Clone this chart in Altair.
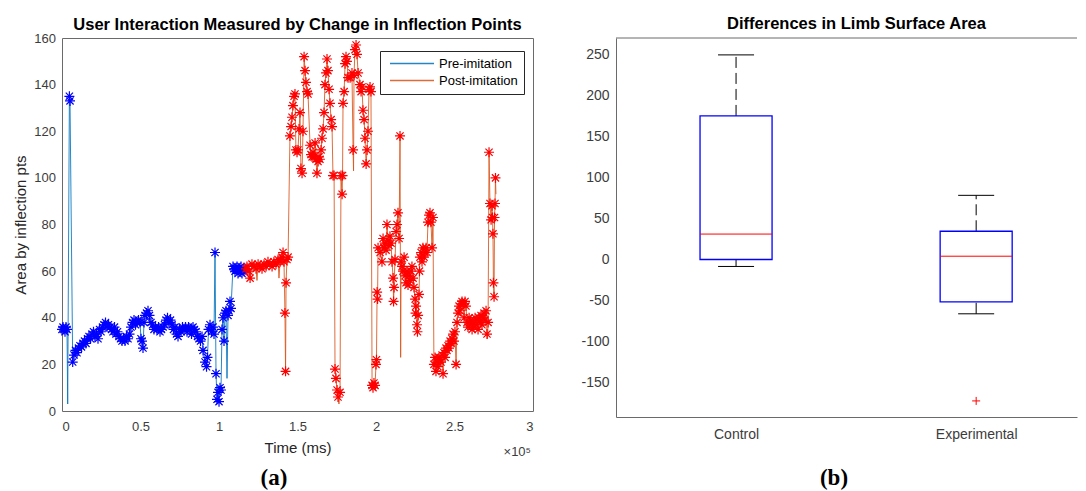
import json
import altair as alt
import pandas as pd

FONT = "Liberation Sans"
SERIF = "Liberation Serif"

# ---------------- panel (a) data ----------------
series_names = ["Pre-imitation", "Post-imitation"]
line_colors = ["#0072BD", "#D95319"]
marker_colors = ["#0000FF", "#FF0000"]

# Pre-imitation: time (ms) and area at inflection points (marked samples)
pre_t = [0, 637, 1274, 1911, 2548, 3185, 4700, 5100, 6816, 7644, 8600, 9555, 10511, 11466,
         12422, 13377, 14333, 15288, 16244, 17199, 18155, 19110, 20066, 21021, 21977, 22932,
         23888, 24843, 25799, 26754, 27710, 28665, 29621, 30576, 31532, 32487, 33443, 34398,
         35354, 36309, 37265, 38220, 39176, 40131, 41087, 42042, 42998, 43953, 44909, 45864,
         46820, 47775, 48731, 49686, 50323, 50960, 51597, 52234, 52871, 53827, 54782, 55738,
         56693, 57649, 58604, 59560, 60515, 61471, 62426, 63382, 64337, 65293, 66248, 67204,
         68159, 69115, 70070, 71026, 71981, 72937, 73892, 74848, 75803, 76759, 77714, 78670,
         79625, 80581, 81536, 82492, 83447, 84403, 85358, 86314, 87269, 88225, 89180, 89817,
         91091, 92047, 92684, 93321, 94276, 95232, 96187, 96824, 97461, 98098, 98735, 99372,
         100009, 100646, 101283, 101920, 102557, 103194, 103831, 104468, 105742, 106379,
         107016, 107653, 108927, 109564, 110201, 110838, 111475, 112112, 112749, 113386,
         114023, 114660, 115297, 115934, 116571]
pre_y = [35, 36, 35, 34, 36, 35, 135, 133, 21, 24, 26, 25, 27, 28,
         27.5, 29, 30, 29, 31, 32, 31, 33, 34, 32, 33, 31,
         35, 34, 36, 37, 38, 36, 37, 36, 35, 34, 36, 33,
         34, 32, 31, 30, 31, 30, 32, 31, 33, 36, 38, 39,
         37, 38, 39, 38, 31, 30, 27, 38, 41, 42, 43, 41,
         38, 37, 35, 36, 35, 36, 34, 35, 36, 37, 39, 40,
         38, 39, 37, 35, 36, 33, 32, 35, 34, 36, 35, 36,
         34, 36, 35, 33, 36, 35, 34, 32, 31, 30, 32, 26,
         21, 19, 23, 35, 37, 34, 36, 33, 68, 16, 5, 8,
         4, 10, 9, 35, 40, 30, 42, 43, 41, 43,
         47, 44, 62, 61, 60, 61, 62, 59, 61, 60,
         62, 59, 61, 60, 61]
# samples on the line without a marker
pre_line_t = [3631, 105105]
pre_line_y = [3, 14]

post_t = [117200, 117800, 119100, 119800, 121000, 122300, 123600, 124900, 126100, 127400,
          128700, 130000, 131200, 132500, 133800, 135000, 136300, 137600, 138900, 140100,
          140800, 141400, 142000, 142400, 142700, 143300, 144000, 145200, 145900, 146500,
          147100, 147800, 148400, 149000, 149700, 150300, 151000, 151600, 152200, 152900,
          153500, 154200, 154800, 155400, 156100, 156700, 158000, 158600, 159300, 159900,
          160500, 161200, 161800, 162400, 163100, 163700, 164300, 165000, 165600, 166300,
          166900, 167500, 168200, 168800, 169400, 170100, 170700, 171400, 172000, 172600,
          173300, 173900, 174500, 175200, 175800, 177100, 177700, 178400, 178700, 179000,
          179700, 180300, 180900, 181500, 182200, 183500, 184700, 185400, 186000, 186600,
          187300, 187900, 188600, 189800, 190500, 191100, 191700, 192400, 193000, 193700,
          194300, 194900, 195600, 196200, 196800, 197500, 198100, 198700, 199400, 200000,
          200300, 200700, 201000, 201300, 202600, 203800, 204500, 205100, 205700, 206400,
          207000, 207700, 208300, 208900, 209600, 210200, 210900, 211200, 211500, 212100,
          212800, 213400, 214000, 214700, 215300, 216000, 216600, 217200, 217900, 218500,
          219100, 219800, 220400, 221000, 221700, 222300, 222900, 223600, 224200, 224900,
          225200, 225500, 226100, 226400, 226800, 227400, 227700, 228000, 228700, 229300,
          229900, 230600, 231200, 231900, 232500, 233100, 233800, 234400, 235000, 235700,
          236300, 236900, 237600, 238200, 238900, 239500, 240100, 240800, 241400, 242100,
          242700, 243300, 244000, 244600, 245200, 245900, 246500, 247200, 247800, 248400,
          249100, 249700, 250300, 251000, 251600, 252300, 252900, 253500, 254200, 254800,
          255400, 256100, 256700, 257300, 258000, 258600, 259300, 259900, 260500, 261200,
          261800, 262400, 263100, 263700, 264400, 265000, 265600, 266300, 266900, 267500,
          268200, 268800, 269500, 270100, 270700, 271400, 272000, 272600, 273300, 273900,
          274200, 274500, 274800, 275200, 275500, 275800, 276100]
post_y = [61, 62, 60, 57, 63, 62, 61, 63, 62, 61,
          63, 62, 64, 63, 62, 64, 63, 65, 64, 66,
          68, 64, 42, 17, 55, 65, 66, 118, 122, 126,
          131, 135, 136, 112, 111, 112, 121, 128, 104, 102,
          120, 152, 146, 141, 137, 136, 114, 110, 109, 111,
          109, 115, 108, 102, 107, 109, 108, 112, 117, 121,
          128, 140, 145, 151, 146, 138, 132, 125, 122, 101,
          101, 18, 14, 9, 6, 8, 101, 93, 101, 132,
          137, 149, 152, 150, 143, 143, 145, 112, 144, 155,
          157, 153, 145, 140, 137, 139, 129, 125, 117, 106,
          112, 120, 138, 139, 137, 11, 10, 12, 11, 20,
          22, 51, 48, 70, 68, 64, 74, 70, 72, 69,
          80, 73, 71, 75, 72, 64, 57, 47, 53, 65,
          77, 80, 85, 74, 118, 64, 62, 60, 66, 58,
          55, 60, 54, 58, 56, 60, 62, 57, 53, 48,
          42, 45, 37, 34, 41, 50, 60, 66, 68, 64,
          70, 66, 68, 70, 68, 81, 84, 85, 81, 70,
          83, 20, 23, 17, 21, 19, 23, 22, 21, 24,
          16, 25, 23, 27, 26, 28, 27, 30, 29, 31,
          33, 30, 34, 20, 38, 42, 45, 43, 46, 47,
          46, 40, 47, 45, 38, 36, 40, 37, 39, 35,
          38, 36, 40, 37, 39, 35, 40, 38, 41, 37,
          40, 42, 39, 43, 33, 38, 111, 89, 82, 88,
          83, 76, 55, 49, 83, 89, 100]
post_line_t = [124200, 138200, 176400, 185700, 215700, 271000, 276400]
post_line_y = [56, 57, 3, 103, 23, 31, 93]

x_ticks = [0, 0.5, 1, 1.5, 2, 2.5, 3]          # x 10^5 ms
y_ticks = [0, 20, 40, 60, 80, 100, 120, 140, 160]

# ---------------- panel (b) data ----------------
groups = ["Control", "Experimental"]
q1 = [0.0, -51.6]
median = [31.0, 4.0]
q3 = [175.0, 34.4]
whisker_lo = [-8.5, -66.2]
whisker_hi = [249.4, 78.2]
outlier_group = ["Experimental"]
outlier_val = [-172.4]
box_ticks = [-150, -100, -50, 0, 50, 100, 150, 200, 250]

captions = ["(a)", "(b)"]
exponent_label = ["\u00d710\u2075"]

# ---------------- styling ----------------
FRAME = "#6a6a6a"
LABEL = "#3c3c3c"
W1, H1 = 471, 373
W2, H2 = 461, 379
STAR = "M-1,0L1,0M0,-1L0,1M-0.72,-0.72L0.72,0.72M-0.72,0.72L0.72,-0.72"
PLUS = "M-1,0L1,0M0,-1L0,1"
LEGEND_LINE = "M-4,0L4,0"


def sdf(t, y, name):
    return pd.DataFrame({"t": t, "y": y, "series": name})


pre_pts = sdf(pre_t, pre_y, series_names[0])
post_pts = sdf(post_t, post_y, series_names[1])
line_df = pd.concat([
    pre_pts, sdf(pre_line_t, pre_line_y, series_names[0]),
    post_pts, sdf(post_line_t, post_line_y, series_names[1]),
], ignore_index=True).sort_values(["series", "t"])

xs = alt.Scale(domain=[0, 300000], nice=False, zero=False)
ys = alt.Scale(domain=[0, 160], nice=False, zero=False)

x_axis = alt.Axis(values=[v * 100000 for v in x_ticks], labelExpr="'' + (datum.value / 100000)",
                  title="Time (ms)", grid=False, ticks=False, domain=False,
                  labelFont=FONT, labelFontSize=13, labelColor=LABEL, labelPadding=9,
                  titleFont=FONT, titleFontSize=15, titleFontWeight="normal", titleColor="#262626",
                  titlePadding=7)
y_axis = alt.Axis(values=y_ticks, title="Area by inflection pts", grid=False, ticks=False, domain=False,
                  labelFont=FONT, labelFontSize=13, labelColor=LABEL, labelPadding=6.5,
                  titleFont=FONT, titleFontSize=15, titleFontWeight="normal", titleColor="#262626",
                  titlePadding=5)

lines = alt.Chart(line_df).mark_line(strokeWidth=1, opacity=0.85).encode(
    x=alt.X("t:Q", scale=xs, axis=x_axis),
    y=alt.Y("y:Q", scale=ys, axis=y_axis),
    color=alt.Color("series:N", sort=series_names,
                    scale=alt.Scale(domain=series_names, range=line_colors),
                    legend=alt.Legend(title=None, orient="none", legendX=318, legendY=13,
                                      direction="vertical", symbolType=LEGEND_LINE, symbolSize=121,
                                      symbolStrokeWidth=1.5, symbolOffset=19.5,
                                      labelFont=FONT, labelFontSize=13,
                                      labelColor="#000000", labelOffset=20.5, strokeColor="#262626",
                                      fillColor="#ffffff", padding=6, rowPadding=3, cornerRadius=0)),
)
pre_marks = alt.Chart(pre_pts).mark_point(shape=STAR, size=100, filled=False, strokeWidth=1.2,
                                          color=marker_colors[0], opacity=1).encode(
    x=alt.X("t:Q", scale=xs, axis=x_axis), y=alt.Y("y:Q", scale=ys, axis=y_axis))
post_marks = alt.Chart(post_pts).mark_point(shape=STAR, size=100, filled=False, strokeWidth=1.2,
                                            color=marker_colors[1], opacity=1).encode(
    x=alt.X("t:Q", scale=xs, axis=x_axis), y=alt.Y("y:Q", scale=ys, axis=y_axis))

exp_text = alt.Chart(pd.DataFrame({"label": exponent_label})).mark_text(
    font=FONT, fontSize=13, align="right", baseline="alphabetic", color=LABEL).encode(
    text="label:N", x=alt.value(469), y=alt.value(418))
cap_a = alt.Chart(pd.DataFrame({"label": captions[:1]})).mark_text(
    font=SERIF, fontSize=23, fontWeight="bold", align="center", baseline="alphabetic",
    color="#000000").encode(text="label:N", x=alt.value(212), y=alt.value(447))

left = alt.layer(lines, pre_marks, post_marks, exp_text, cap_a).properties(
    width=W1, height=H1,
    title=alt.TitleParams("User Interaction Measured by Change in Inflection Points", font=FONT,
                          fontSize=16.5, fontWeight="bold", color="#000000", anchor="middle",
                          frame="group", baseline="alphabetic", offset=-14),
    view=alt.ViewBackground(stroke=FRAME, strokeWidth=1),
)

# ---------------- panel (b) ----------------
box_df = pd.DataFrame({"group": groups, "q1": q1, "med": median, "q3": q3,
                       "lo": whisker_lo, "hi": whisker_hi})
box_df["pos"] = list(range(1, len(groups) + 1))
out_df = pd.DataFrame({"group": outlier_group, "val": outlier_val})
out_df["pos"] = [groups.index(g) + 1 for g in outlier_group]

BOX_HALF, CAP_HALF = 0.15, 0.075
xs2 = alt.Scale(domain=[0.5, 2.42], nice=False, zero=False)
ys2 = alt.Scale(domain=[-192, 270], nice=False, zero=False)
x_axis2 = alt.Axis(values=list(range(1, len(groups) + 1)),
                   labelExpr=json.dumps(groups) + "[datum.value - 1]",
                   title=None, grid=False, ticks=False, domain=True, domainColor=FRAME,
                   labelFont=FONT, labelFontSize=14, labelColor=LABEL, labelPadding=10)
y_axis2 = alt.Axis(values=box_ticks, labelExpr="'' + datum.value", title=None, grid=False,
                   ticks=False, domain=True, domainColor=FRAME, labelFont=FONT, labelFontSize=14,
                   labelColor=LABEL, labelPadding=7)


def X2(f):
    return alt.X(f, scale=xs2, axis=x_axis2)


def Y2(f):
    return alt.Y(f, scale=ys2, axis=y_axis2)


bbase = alt.Chart(box_df).transform_calculate(
    bx1=f"datum.pos - {BOX_HALF}", bx2=f"datum.pos + {BOX_HALF}",
    cx1=f"datum.pos - {CAP_HALF}", cx2=f"datum.pos + {CAP_HALF}")

wh_up = bbase.mark_rule(color="#000000", strokeWidth=1, strokeDash=[11, 5]).encode(
    x=X2("pos:Q"), y=Y2("q3:Q"), y2="hi:Q")
wh_dn = bbase.mark_rule(color="#000000", strokeWidth=1, strokeDash=[11, 5]).encode(
    x=X2("pos:Q"), y=Y2("lo:Q"), y2="q1:Q")
cap_up = bbase.mark_rule(color="#000000", strokeWidth=1).encode(
    x=X2("cx1:Q"), x2="cx2:Q", y=Y2("hi:Q"))
cap_dn = bbase.mark_rule(color="#000000", strokeWidth=1).encode(
    x=X2("cx1:Q"), x2="cx2:Q", y=Y2("lo:Q"))
box = bbase.mark_rect(fill="transparent", stroke="#0000FF", strokeWidth=1.3).encode(
    x=X2("bx1:Q"), x2="bx2:Q", y=Y2("q1:Q"), y2="q3:Q")
med = bbase.mark_rule(color="#FF0000", strokeWidth=1).encode(
    x=X2("bx1:Q"), x2="bx2:Q", y=Y2("med:Q"))
outl = alt.Chart(out_df).mark_point(shape=PLUS, size=64, filled=False, strokeWidth=1,
                                    color="#FF0000", opacity=1).encode(
    x=X2("pos:Q"), y=Y2("val:Q"))
cap_df = pd.DataFrame({"label": captions[1:]})
top_border = alt.Chart(cap_df).mark_rule(color=FRAME, strokeWidth=1).encode(
    x=alt.value(0), x2=alt.value(W2), y=alt.value(0))
cap_b = alt.Chart(cap_df).mark_text(
    font=SERIF, fontSize=23, fontWeight="bold", align="center", baseline="alphabetic",
    color="#000000").encode(text="label:N", x=alt.value(218), y=alt.value(447))

right = alt.layer(wh_up, wh_dn, cap_up, cap_dn, box, med, outl, top_border, cap_b).properties(
    width=W2, height=H2,
    title=alt.TitleParams("Differences in Limb Surface Area", font=FONT, fontSize=16.5,
                          fontWeight="bold", color="#000000", anchor="middle", frame="group",
                          baseline="alphabetic", offset=-8, dx=10),
    view=alt.ViewBackground(stroke="transparent"),
)

chart = alt.hconcat(left, right, spacing=46).properties(
    padding={"left": 5, "top": 7, "right": 0, "bottom": 0},
    background="#ffffff",
)

chart.save("out.html", embed_options={"renderer": "svg", "actions": False})
